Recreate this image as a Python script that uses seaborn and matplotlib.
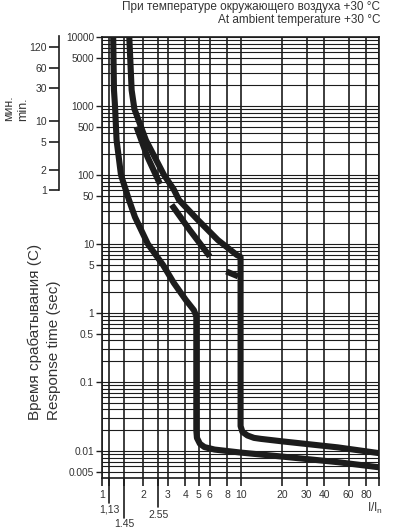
import numpy as np
import pandas as pd
import matplotlib
matplotlib.use("Agg")
import matplotlib.pyplot as plt
import matplotlib.ticker as mticker
import seaborn as sns

# Curve data (I/In vs response time in seconds)
lower_x = [1.21, 1.226, 1.247, 1.28, 1.377, 1.572, 1.736, 2.15, 2.76, 3.31, 4.04, 4.61, 4.8,
           4.8, 4.85, 5.1, 5.5, 6.5, 10, 20, 50, 100]
lower_y = [10000, 1700, 1000, 320, 100, 43.5, 24.6, 10, 5, 2.72, 1.54, 1.1, 0.9,
           0.02, 0.0155, 0.0127, 0.0114, 0.0105, 0.0095, 0.0083, 0.0069, 0.0058]

upper_x = [1.58, 1.643, 1.72, 2.08, 2.81, 3.3, 3.6, 4.93, 6.87, 9.4, 10,
           10, 10.3, 11.2, 12.5, 14, 20, 50, 100]
upper_y = [10000, 1700, 905, 321, 100, 62, 43.5, 22.3, 11.4, 6.93, 6.5,
           0.023, 0.019, 0.0168, 0.0155, 0.015, 0.0138, 0.0113, 0.0093]

seg_a_x = [1.78, 2.13, 2.63]
seg_a_y = [500, 185, 74]
seg_b_x = [3.19, 4.3, 6.0]
seg_b_y = [37, 16, 6.6]
seg_c_x = [7.9, 9.6]
seg_c_y = [4.0, 3.4]

# axis ticks
x_ticks = [1, 1.13, 1.45, 2, 2.55, 3, 4, 5, 6, 8, 10, 20, 30, 40, 60, 80, 100]
x_labels = ['1', '', '', '2', '', '3', '4', '5', '6', '8', '10', '20', '30', '40', '60', '80', '']
special_x = [1.13, 1.45, 2.55]
special_labels = ['1,13', '1.45', '2.55']
y_ticks = [10000, 5000, 1000, 500, 100, 50, 10, 5, 1, 0.5, 0.1, 0.01, 0.005]
y_labels = ['10000', '5000', '1000', '500', '100', '50', '10', '5', '1', '0.5', '0.1', '0.01', '0.005']
minutes = [120, 60, 30, 10, 5, 2, 1]

sns.set_style('ticks')
plt.rcParams['font.family'] = ['Liberation Sans', 'DejaVu Sans']

ink = '#1c1c1c'
txt = '#333333'

fig = plt.figure(figsize=(4.04, 5.30), dpi=100)
ax = fig.add_axes([0.2517, 0.0972, 0.6876, 0.833])
ax.set_xscale('log')
ax.set_yscale('log')
ax.set_xlim(1, 100)
ax.set_ylim(0.004, 10000)

# grid
ax.set_xticks(x_ticks)
ax.set_xticklabels(x_labels)
ax.xaxis.set_minor_locator(mticker.NullLocator())
ax.set_yticks(y_ticks)
ax.set_yticklabels(y_labels)
ax.yaxis.set_minor_locator(mticker.LogLocator(base=10, subs=np.arange(1, 10), numticks=50))
ax.yaxis.set_minor_formatter(mticker.NullFormatter())
ax.grid(True, axis='x', which='major', color=ink, lw=1.2)
ax.grid(True, axis='y', which='both', color=ink, lw=0.8)
ax.tick_params(axis='x', which='major', length=6, width=1.2, pad=2.5, labelsize=7.5, labelcolor=txt, color=ink)
ax.tick_params(axis='y', which='major', length=4, width=1.0, pad=1.5, labelsize=7.3, labelcolor=txt, color=ink)
ax.tick_params(axis='y', which='minor', length=0)
for sp in ax.spines.values():
    sp.set_color(ink)
    sp.set_linewidth(1.2)

# curves
segments = [(lower_x, lower_y), (upper_x, upper_y), (seg_a_x, seg_a_y),
            (seg_b_x, seg_b_y), (seg_c_x, seg_c_y)]
for sx, sy in segments:
    d = pd.DataFrame({'I/In': sx, 't': sy})
    sns.lineplot(data=d, x='I/In', y='t', sort=False, estimator=None, color=ink,
                 lw=4.4, ax=ax, solid_capstyle='butt', solid_joinstyle='round', zorder=5)
ax.set_xlabel('')
ax.set_ylabel('')

# extended ticks for 1.13, 1.45, 2.55
trans = ax.get_xaxis_transform()
line_ends = [-0.056, -0.09, -0.064]
label_pos = [-0.071, -0.103, -0.083]
for xv, lab, e, lp in zip(special_x, special_labels, line_ends, label_pos):
    ax.plot([xv, xv], [0, e], color=ink, lw=1.2, transform=trans, clip_on=False)
    ax.text(xv, lp, lab, transform=trans, ha='center', va='center', fontsize=7.5, color=txt)

ax.text(1.012, -0.068, r'I/I$_\mathregular{n}$', transform=ax.transAxes, ha='right', va='center',
        fontsize=8.5, color=txt)

# minutes axis
sec = ax.secondary_yaxis(-0.1526, functions=(lambda s: s / 60.0, lambda m: m * 60.0))
sec.set_yticks(minutes)
sec.set_yticklabels([str(m) for m in minutes])
sec.yaxis.set_minor_locator(mticker.NullLocator())
sec.spines['left'].set_bounds(1, 174)
sec.spines['left'].set_color(ink)
sec.spines['left'].set_linewidth(1.2)
sec.tick_params(axis='y', length=7.5, width=1.2, pad=1.5, labelsize=7.5, labelcolor=txt, color=ink)

fig.text(16 / 404, 1 - 108 / 530, 'мин.\nmin.', rotation=90, ha='center', va='center',
         multialignment='left', fontsize=8.8, color=txt, linespacing=1.3)
fig.text(44 / 404, 1 - 332 / 530, 'Время срабатывания (С)\nResponse time (sec)', rotation=90,
         ha='center', va='center', multialignment='left', fontsize=11, color=txt, linespacing=1.45)

fig.text(380 / 404, 1 - 7 / 530, 'При температуре окружающего воздуха +30 °C', ha='right',
         va='center', fontsize=8.5, color=txt)
fig.text(380 / 404, 1 - 20 / 530, 'At ambient temperature +30 °C', ha='right',
         va='center', fontsize=8.5, color=txt)

fig.savefig('out.png', dpi=100)
